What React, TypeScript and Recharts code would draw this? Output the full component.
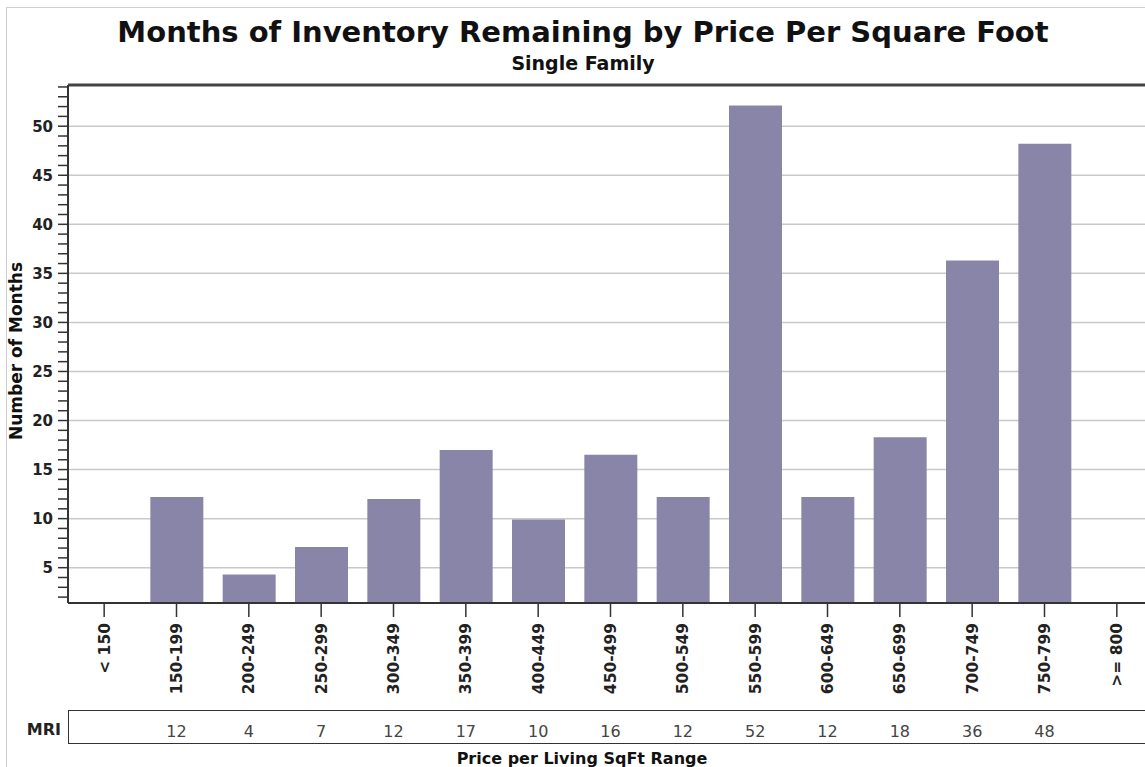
import { BarChart, Bar, XAxis, YAxis, CartesianGrid, ReferenceLine } from 'recharts';

const categories = [
  '< 150', '150-199', '200-249', '250-299', '300-349', '350-399', '400-449', '450-499',
  '500-549', '550-599', '600-649', '650-699', '700-749', '750-799', '>= 800',
];
const months = [null, 12.2, 4.3, 7.1, 12.0, 17.0, 9.9, 16.5, 12.2, 52.1, 12.2, 18.3, 36.3, 48.2, null];
const mriLabels = ['', '12', '4', '7', '12', '17', '10', '16', '12', '52', '12', '18', '36', '48', ''];
const labelTicks = [5, 10, 15, 20, 25, 30, 35, 40, 45, 50];
const yDomain: [number, number] = [1.4, 54.2];
// one minor tick per month
const minorTicks = Array.from({ length: 53 }, (_, i) => i + 2);

const data = categories.map((range, i) => ({ range, months: months[i], mri: mriLabels[i] }));

const VERDANA = '"DejaVu Sans", Verdana, sans-serif';

const YTick = ({ x, y, payload }: any) => {
  if (payload.value % 5 !== 0) return null;
  return (
    <text x={x} y={y} dy="0.36em" textAnchor="end" fontFamily={VERDANA} fontWeight="bold" fontSize={15} fill="#222">
      {payload.value}
    </text>
  );
};

const XTick = ({ x, y, payload, index }: any) => (
  <g>
    <text
      transform={`rotate(-90, ${x}, ${y})`}
      x={x}
      y={y}
      dy="0.36em"
      textAnchor="end"
      fontFamily={VERDANA}
      fontWeight="bold"
      fontSize={15.5}
      fill="#222"
    >
      {payload.value}
    </text>
    <text x={x} y={731} dy="0.36em" textAnchor="middle" fontFamily={VERDANA} fontSize={16} fill="#444">
      {data[index]?.mri}
    </text>
  </g>
);

export default function App() {
  return (
    <div style={{ position: 'relative', width: 1145, height: 767, overflow: 'hidden', background: '#fff' }}>
      <style>{'body{margin:0}'}</style>
      <div style={{ position: 'absolute', left: 6, top: 7, width: 1300, height: 900, border: '1px solid #cfcfcf' }} />
      <div
        style={{
          position: 'absolute', left: 0, width: 1166, top: 14, textAlign: 'center',
          fontFamily: VERDANA, fontWeight: 'bold', fontSize: 29, color: '#111', lineHeight: '36px',
        }}
      >
        Months of Inventory Remaining by Price Per Square Foot
      </div>
      <div
        style={{
          position: 'absolute', left: 0, width: 1166, top: 51, textAlign: 'center',
          fontFamily: VERDANA, fontWeight: 'bold', fontSize: 19, color: '#111', lineHeight: '24px',
        }}
      >
        Single Family
      </div>
      <div style={{ position: 'absolute', left: 0, top: 0 }}>
        <BarChart width={1200} height={767} data={data} margin={{ top: 85, right: 47, bottom: 0, left: 0 }}>
          <CartesianGrid vertical={false} horizontalValues={labelTicks} stroke="#c9c9c9" strokeWidth={1.5} />
          <YAxis
            type="number"
            domain={yDomain}
            allowDataOverflow
            ticks={minorTicks}
            interval={0}
            width={68}
            tick={<YTick />}
            tickSize={10}
            tickMargin={5}
            axisLine={{ stroke: '#333', strokeWidth: 2 }}
            tickLine={{ stroke: '#333', strokeWidth: 1.5 }}
          />
          <XAxis
            dataKey="range"
            interval={0}
            height={164}
            tick={<XTick />}
            tickSize={14}
            tickMargin={6}
            axisLine={{ stroke: '#333', strokeWidth: 2 }}
            tickLine={{ stroke: '#333', strokeWidth: 1.5 }}
          />
          <ReferenceLine y={yDomain[1]} stroke="#444" strokeWidth={3} />
          <Bar dataKey="months" fill="#8985a8" barSize={53} isAnimationActive={false} />
        </BarChart>
      </div>
      <div style={{ position: 'absolute', left: 68, top: 710, width: 1200, height: 32, borderTop: '1.5px solid #333', borderBottom: '1.5px solid #333', borderLeft: '1.5px solid #333' }} />
      <div
        style={{
          position: 'absolute', left: 0, width: 61, top: 720, textAlign: 'right',
          fontFamily: VERDANA, fontWeight: 'bold', fontSize: 16, color: '#222', lineHeight: '20px',
        }}
      >
        MRI
      </div>
      <div
        style={{
          position: 'absolute', left: 16, top: 351, transform: 'translate(-50%, -50%) rotate(-90deg)', whiteSpace: 'nowrap',
          fontFamily: VERDANA, fontWeight: 'bold', fontSize: 17, color: '#111', lineHeight: '20px',
        }}
      >
        Number of Months
      </div>
      <div
        style={{
          position: 'absolute', left: 0, width: 1164, top: 749, textAlign: 'center',
          fontFamily: VERDANA, fontWeight: 'bold', fontSize: 16, color: '#111', lineHeight: '19px',
        }}
      >
        Price per Living SqFt Range
      </div>
    </div>
  );
}
